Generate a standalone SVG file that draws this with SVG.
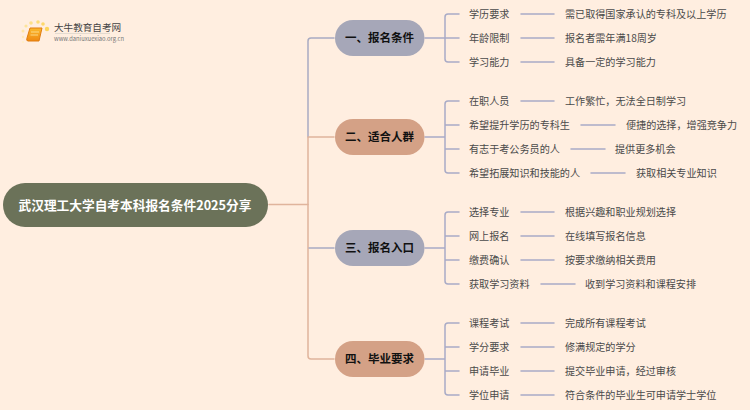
<svg xmlns="http://www.w3.org/2000/svg" width="750" height="410" viewBox="0 0 750 410">
<defs><linearGradient id="bk" x1="0" y1="0" x2="0" y2="1"><stop offset="0" stop-color="#fbb92d"/><stop offset="1" stop-color="#f08a12"/></linearGradient></defs>
<style>
text{font-family:"Noto Sans CJK SC","Noto Sans",sans-serif}
.l{font-size:10.100px;fill:#4a4a4a}
.b{font-size:11.500px;font-weight:700;fill:#111;text-anchor:middle}
.c{fill:none;stroke-width:1.500;stroke-linecap:round;stroke-linejoin:round}
.bl{stroke:#a9abc2}.br{stroke:#e0b49c}.g{stroke:#a9abc6}
</style>
<rect width="750" height="410" fill="#ffeee0"/>
<g id="connectors">
<path class="c br" d="M269 204.500H308"/>
<path class="c bl" d="M334 38H311Q308 38 308 41V137"/>
<path class="c br" d="M334 137H308M308 137V356Q308 359 311 359H334"/>
<path class="c bl" d="M309 248H334"/>
<path class="c g" d="M425 38H459M459 14H448Q445 14 445 17V59Q445 62 448 62H459"/>
<path class="c g" d="M521 14H554M521 38H554M521 62H554"/>
<path class="c g" d="M425 137H445M459 101H448Q445 101 445 104V170Q445 173 448 173H459M445 125H459M445 149H459"/>
<path class="c g" d="M521 101H554M581 125H615M571 149H605M591 173H625"/>
<path class="c g" d="M425 248H445M459 212H448Q445 212 445 215V281Q445 284 448 284H459M445 236H459M445 260H459"/>
<path class="c g" d="M521 212H554M521 236H554M521 260H554M541 284H575"/>
<path class="c g" d="M425 359H445M459 323H448Q445 323 445 326V392Q445 395 448 395H459M445 347H459M445 371H459"/>
<path class="c g" d="M521 323H554M521 347H554M521 371H554M521 395H554"/>
</g>
<g id="logo">
<circle cx="23" cy="42" r="1" fill="#fff0c8"/><circle cx="23" cy="37" r="1.200" fill="#ffeab8"/><circle cx="23" cy="31" r="1.500" fill="#fee6a8"/><circle cx="26" cy="26" r="1.600" fill="#fde49a"/><circle cx="31" cy="23" r="1.800" fill="#fde08a"/><circle cx="38" cy="22" r="1.800" fill="#fddc78"/><circle cx="43" cy="24" r="1.800" fill="#fdd86a"/><circle cx="47" cy="29" r="2.200" fill="#fdd55c"/>
<path d="M30 28H42L39 41H28Q26 41 27 38Z" fill="url(#bk)" stroke="#e07c10" stroke-width="1"/>
<path d="M31 32H39M30.500 35H38" stroke="#fde6a0" stroke-width="0.800" fill="none"/>
<path d="M55 33.500H110" stroke="#ddd6cc" stroke-width="0.800"/>
<text x="54" y="31" font-size="9.600" fill="#444">大牛教育自考网</text>
<text x="54" y="41" font-size="5.800" fill="#777">www.daniuxuexiao.org.cn</text>
</g>
<g id="root"><rect x="3" y="183" width="265" height="44" rx="22" fill="#6b7259"/><text x="135" y="209.500" text-anchor="middle" font-size="12.700" font-weight="700" fill="#fff">武汉理工大学自考本科报名条件2025分享</text></g>
<g id="n1"><rect x="335" y="20" width="89.500" height="36" rx="18" fill="#a6a7b8"/><text class="b" x="379.500" y="42.300">一、报名条件</text></g>
<g id="n2"><rect x="335" y="119" width="89.500" height="36" rx="18" fill="#d4a186"/><text class="b" x="379.500" y="141.300">二、适合人群</text></g>
<g id="n3"><rect x="335" y="230" width="89.500" height="36" rx="18" fill="#a6a7b8"/><text class="b" x="379.500" y="252.300">三、报名入口</text></g>
<g id="n4"><rect x="335" y="341" width="89.500" height="36" rx="18" fill="#d4a186"/><text class="b" x="379.500" y="363.300">四、毕业要求</text></g>
<g id="labels">
<text class="l" x="469" y="17.500">学历要求</text><text class="l" x="565" y="17.500">需已取得国家承认的专科及以上学历</text>
<text class="l" x="469" y="41.500">年龄限制</text><text class="l" x="565" y="41.500">报名者需年满18周岁</text>
<text class="l" x="469" y="65.500">学习能力</text><text class="l" x="565" y="65.500">具备一定的学习能力</text>
<text class="l" x="469" y="104.500">在职人员</text><text class="l" x="565" y="104.500">工作繁忙，无法全日制学习</text>
<text class="l" x="469" y="128.500">希望提升学历的专科生</text><text class="l" x="626" y="128.500">便捷的选择，增强竞争力</text>
<text class="l" x="469" y="152.500">有志于考公务员的人</text><text class="l" x="615" y="152.500">提供更多机会</text>
<text class="l" x="469" y="176.500">希望拓展知识和技能的人</text><text class="l" x="636" y="176.500">获取相关专业知识</text>
<text class="l" x="469" y="215.500">选择专业</text><text class="l" x="565" y="215.500">根据兴趣和职业规划选择</text>
<text class="l" x="469" y="239.500">网上报名</text><text class="l" x="565" y="239.500">在线填写报名信息</text>
<text class="l" x="469" y="263.500">缴费确认</text><text class="l" x="565" y="263.500">按要求缴纳相关费用</text>
<text class="l" x="469" y="287.500">获取学习资料</text><text class="l" x="585" y="287.500">收到学习资料和课程安排</text>
<text class="l" x="469" y="326.500">课程考试</text><text class="l" x="565" y="326.500">完成所有课程考试</text>
<text class="l" x="469" y="350.500">学分要求</text><text class="l" x="565" y="350.500">修满规定的学分</text>
<text class="l" x="469" y="374.500">申请毕业</text><text class="l" x="565" y="374.500">提交毕业申请，经过审核</text>
<text class="l" x="469" y="398.500">学位申请</text><text class="l" x="565" y="398.500">符合条件的毕业生可申请学士学位</text>
</g>
</svg>
